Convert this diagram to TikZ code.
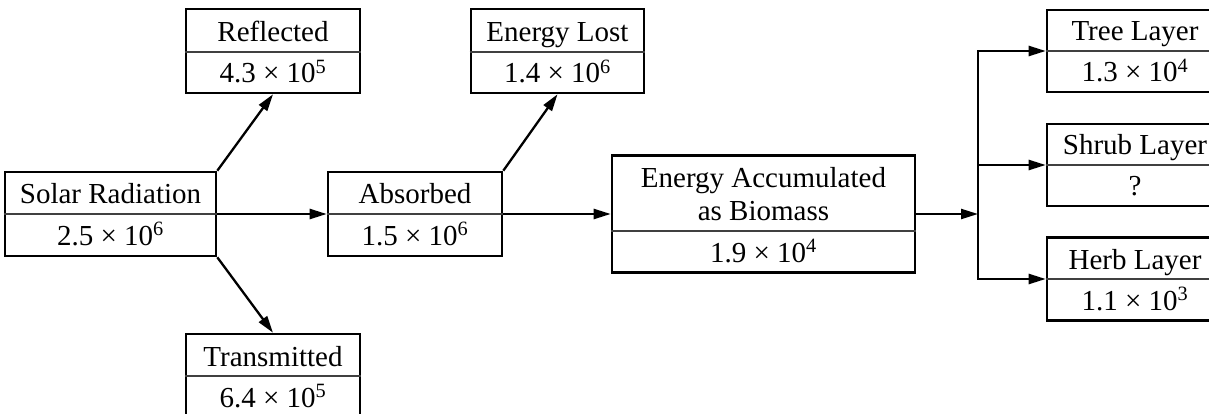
\documentclass[tikz,border=0pt]{standalone}
\usepackage{fontspec}
\setmainfont{Liberation Serif}
\usetikzlibrary{arrows.meta}
\tikzset{
  dbox/.style={draw, line width=2.6pt, rectangle, inner sep=0pt},
  divline/.style={line width=1.2pt, draw=black!75},
  lbl/.style={anchor=base, inner sep=0pt, font=\fontsize{29}{33}\selectfont, align=center},
  arr/.style={line width=2.3pt, -{Triangle[length=17pt,width=10pt]}},
}
\newcommand{\dbx}[9]{% name, cx, cy, w, h, ydiv, ybase, text1, text2
  \node[dbox, minimum width=#4pt, minimum height=#5pt] (#1) at (#2,#3) {};
  \draw[divline] (#1.west |- 0,#6) -- (#1.east |- 0,#6);
  \node[lbl] (#1-t) at (#2,#7) {#8};
  \node[lbl] (#1-v) at (#2,#6+31) {#9};
}
\begin{document}
\begin{tikzpicture}[x=1pt, y=-1pt]
\useasboundingbox (0,0) rectangle (1209,414);
\fill[white] (0,0) rectangle (1209,414);
\clip (0,0) rectangle (1209,414);

\dbx{refl}{273}{51}{174}{84}{52}{42}{Reflected}{4.3 × 10\textsuperscript{5}}
\dbx{lost}{557.5}{51}{173}{84}{52}{42}{Energy Lost}{1.4 × 10\textsuperscript{6}}
\dbx{solar}{110.5}{214}{211}{84}{214}{204}{Solar Radiation}{2.5 × 10\textsuperscript{6}}
\dbx{abs}{415}{214}{174}{84}{214}{204}{Absorbed}{1.5 × 10\textsuperscript{6}}
\dbx{trans}{273}{376}{174}{84}{376}{366}{Transmitted}{6.4 × 10\textsuperscript{5}}
\dbx{ea}{763.5}{214}{303}{117}{231}{220}{Energy Accumulated\\as Biomass}{1.9 × 10\textsuperscript{4}}
\dbx{tree}{1135}{51}{176}{82}{51}{41}{Tree Layer}{1.3 × 10\textsuperscript{4}}
\dbx{shrub}{1135}{165}{176}{82}{165}{155}{Shrub Layer}{?}
\dbx{herb}{1135}{279}{176}{83}{279}{269}{Herb Layer}{1.1 × 10\textsuperscript{3}}

\coordinate (j) at (978,214);

\draw[arr] (solar.north east) -- (refl.south);
\draw[arr] (solar.south east) -- (trans.north);
\draw[arr] (solar.east) -- (abs.west);
\draw[arr] (abs.north east) -- (lost.south);
\draw[arr] (abs.east) -- (ea.west);
\draw[arr] (ea.east) -- (j);
\draw[arr] (j) |- (tree.west);
\draw[arr] (j) -- (shrub.west -| j) -- (shrub.west);
\draw[arr] (j) |- (herb.west);
\end{tikzpicture}
\end{document}
